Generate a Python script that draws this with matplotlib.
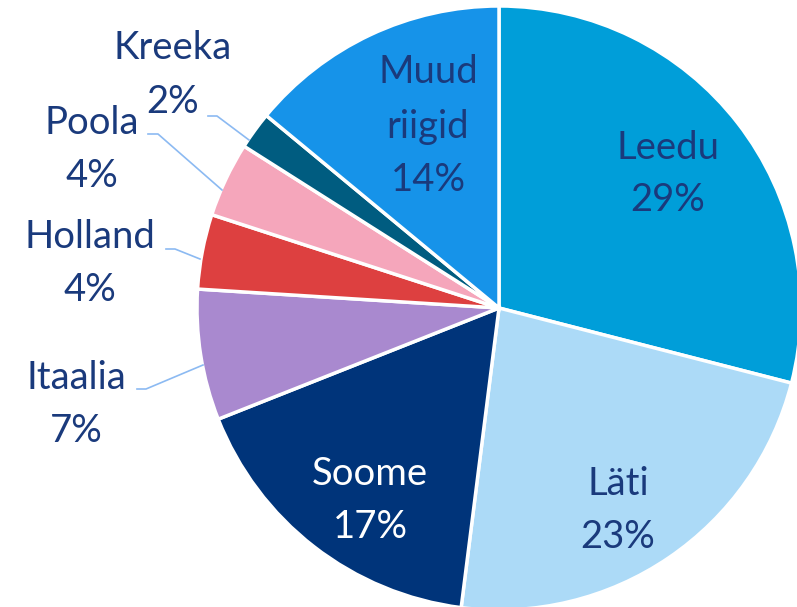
import matplotlib.pyplot as plt

countries = ["Leedu", "Läti", "Soome", "Itaalia", "Holland", "Poola", "Kreeka", "Muud riigid"]
shares = [29, 23, 17, 7, 4, 4, 2, 14]
colors = ["#009ed9", "#acdaf7", "#00347a", "#a989cf", "#dd4040", "#f5a6bb", "#005c80", "#1693e9"]

W, H = 797, 607
TXT = "#1a3a7c"
LEADER = "#8cbaf2"

fig = plt.figure(figsize=(W / 100, H / 100), dpi=100, facecolor="white")
ax = fig.add_axes([0, 0, 1, 1])

cx, cy, r = 499, H - 308, 302
ax.pie(shares, colors=colors, startangle=90, counterclock=False,
       center=(cx, cy), radius=r, frame=True,
       wedgeprops=dict(edgecolor="white", linewidth=2.5))
ax.set_xlim(0, W)
ax.set_ylim(0, H)
ax.set_aspect("equal")
ax.axis("off")

# label text positions (pixel coords, y measured from top)
label_pos = {
    "Leedu": [(668, 148), (668, 200)],
    "Läti": [(618, 484), (618, 537)],
    "Soome": [(370, 474), (370, 527)],
    "Itaalia": [(76, 378), (76, 431)],
    "Holland": [(90, 237), (90, 290)],
    "Poola": [(92, 123), (92, 176)],
    "Kreeka": [(173, 48), (173, 102)],
}
font = dict(family=["Lato", "DejaVu Sans"], fontsize=27.5, ha="center", va="center")

for name, share in zip(countries, shares):
    color = "white" if name == "Soome" else TXT
    if name == "Muud riigid":
        lines = ["Muud", "riigid", f"{share}%"]
        pos = [(428, 72), (428, 127), (428, 180)]
    else:
        lines = [name, f"{share}%"]
        pos = label_pos[name]
    for txt, (x, y) in zip(lines, pos):
        ax.text(x, H - y, txt, color=color, **font)

leaders = [
    [(208, 116), (217, 116), (249, 140)],
    [(148, 134), (158, 134), (222, 190)],
    [(166, 249), (175, 249), (200, 259)],
    [(137, 389), (146, 389), (203, 365)],
]
for pts in leaders:
    ax.plot([p[0] for p in pts], [H - p[1] for p in pts], color=LEADER, lw=1.2)

fig.savefig("out.png", dpi=100, facecolor="white")
